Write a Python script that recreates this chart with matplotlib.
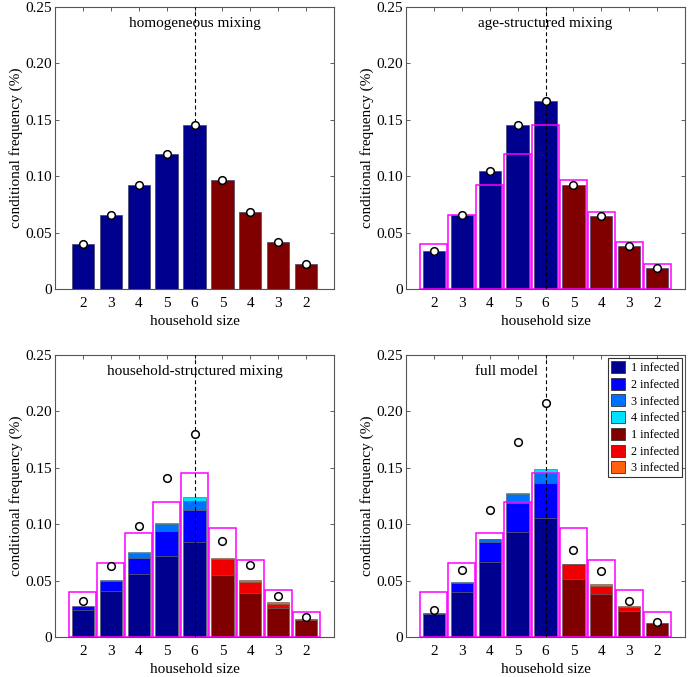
import numpy as np
import matplotlib
matplotlib.use('Agg')
import matplotlib.pyplot as plt
from matplotlib.patches import Patch

plt.rcParams['font.family'] = ['Liberation Serif', 'DejaVu Serif']
plt.rcParams['font.size'] = 11

sizes = ['2', '3', '4', '5', '6', '5', '4', '3', '2']

# homogeneous mixing (also the magenta reference outline)
homog = [0.040, 0.066, 0.092, 0.120, 0.145, 0.097, 0.068, 0.042, 0.022]

# age-structured mixing
age = [0.034, 0.066, 0.105, 0.145, 0.167, 0.092, 0.065, 0.038, 0.019]

# household-structured mixing: stacked by number infected
hh_1 = [0.0243, 0.0405, 0.0556, 0.0716, 0.0843, 0.0547, 0.0393, 0.0257, 0.0154]
hh_2 = [0.0032, 0.0095, 0.0148, 0.0222, 0.0281, 0.0148, 0.0098, 0.0039, 0.0009]
hh_3 = [0.0, 0.0009, 0.0042, 0.0068, 0.0083, 0.0005, 0.0018, 0.0012, 0.0]
hh_4 = [0.0, 0.0, 0.0005, 0.0009, 0.0030, 0.0, 0.0, 0.0, 0.0]
hh_obs = [0.0317, 0.0627, 0.0988, 0.1414, 0.1796, 0.0852, 0.0642, 0.0367, 0.018]

# full model
full_1 = [0.0201, 0.0400, 0.0666, 0.0929, 0.1053, 0.0518, 0.0379, 0.0231, 0.0121]
full_2 = [0.0012, 0.0079, 0.0177, 0.0261, 0.0308, 0.0127, 0.0077, 0.0035, 0.0003]
full_3 = [0.0, 0.0009, 0.0027, 0.0076, 0.0095, 0.0006, 0.0014, 0.0006, 0.0]
full_4 = [0.0, 0.0, 0.0003, 0.0012, 0.0029, 0.0, 0.0, 0.0, 0.0]
full_obs = [0.0243, 0.0592, 0.113, 0.1728, 0.2071, 0.0775, 0.0586, 0.032, 0.0133]

blues = ['#00008f', '#0000ff', '#0070ff', '#00e0ff']
reds = ['#800000', '#ee0000', '#ff6010']

x = np.arange(1, 10)
left_side = x <= 5

fig = plt.figure(figsize=(6.89, 6.77), dpi=100)
w, h = 279 / 689, 282 / 677
positions = [
    [55 / 689, 388 / 677, w, h],
    [406 / 689, 388 / 677, w, h],
    [55 / 689, 40 / 677, w, h],
    [406 / 689, 40 / 677, w, h],
]
axes = [fig.add_axes(p) for p in positions]


def style(ax, title, tx=5):
    ax.set_xlim(0, 10)
    ax.set_ylim(0, 0.25)
    ax.set_xticks(x)
    ax.set_xticklabels(sizes)
    ax.set_yticks([0, 0.05, 0.10, 0.15, 0.20, 0.25])
    ax.set_yticklabels(['0', '0.05', '0.10', '0.15', '0.20', '0.25'])
    ax.tick_params(direction='in', length=3, width=0.6, colors='#444444',
                   labelcolor='black', labelsize=11, right=True, top=True)
    ax.tick_params(axis='y', pad=2)
    ax.tick_params(axis='x', pad=6)
    for s in ax.spines.values():
        s.set_color('#555555')
        s.set_linewidth(0.8)
    ax.set_xlabel('household size', fontsize=11, labelpad=3.5)
    ax.set_ylabel('conditional frequency (%)', fontsize=11, labelpad=2)
    ax.axvline(5, color='black', ls=(0, (3.5, 2.5)), lw=0.8, zorder=4)
    ax.text(tx, 0.235, title, ha='center', va='center', fontsize=11)


def plain_bars(ax, vals):
    cols = [blues[0] if l else reds[0] for l in left_side]
    ax.bar(x, vals, width=0.8, color=cols, edgecolor='#444466', linewidth=0.5, zorder=2)


def stacked(ax, layers):
    bottom = np.zeros(9)
    for i, layer in enumerate(layers):
        layer = np.array(layer)
        for j in range(9):
            if left_side[j]:
                c = blues[i]
            else:
                if i >= 3:
                    continue
                c = reds[i]
            if layer[j] <= 0:
                continue
            ax.bar(x[j], layer[j], bottom=bottom[j], width=0.8, color=c,
                   edgecolor='#555555', linewidth=0.4, zorder=2)
        bottom += layer


def outline(ax):
    ax.bar(x, homog, width=0.97, facecolor='none', edgecolor='#ff00ff',
           linewidth=1.1, zorder=3)


def circles(ax, vals):
    ax.plot(x, vals, 'o', ms=5.5, mfc='white', mec='black', mew=1.1, zorder=5)


ax = axes[0]
plain_bars(ax, homog)
circles(ax, homog)
style(ax, 'homogeneous mixing')

ax = axes[1]
plain_bars(ax, age)
outline(ax)
circles(ax, age)
style(ax, 'age-structured mixing')

ax = axes[2]
stacked(ax, [hh_1, hh_2, hh_3, hh_4])
outline(ax)
circles(ax, hh_obs)
style(ax, 'household-structured mixing')

ax = axes[3]
stacked(ax, [full_1, full_2, full_3, full_4])
outline(ax)
circles(ax, full_obs)
style(ax, 'full model', tx=3.6)

labels = ['1 infected', '2 infected', '3 infected', '4 infected',
          '1 infected', '2 infected', '3 infected']
handles = [Patch(facecolor=c, edgecolor='#333333', linewidth=0.6)
           for c in blues + reds]
leg = axes[3].legend(handles, labels, loc='upper right', fontsize=8.7,
                     frameon=True, fancybox=False, edgecolor='black',
                     handlelength=1.2, handleheight=1.15, handletextpad=0.45,
                     labelspacing=0.3, borderpad=0.25, borderaxespad=0.25)
leg.get_frame().set_linewidth(0.8)

fig.savefig('out.png', dpi=100)
